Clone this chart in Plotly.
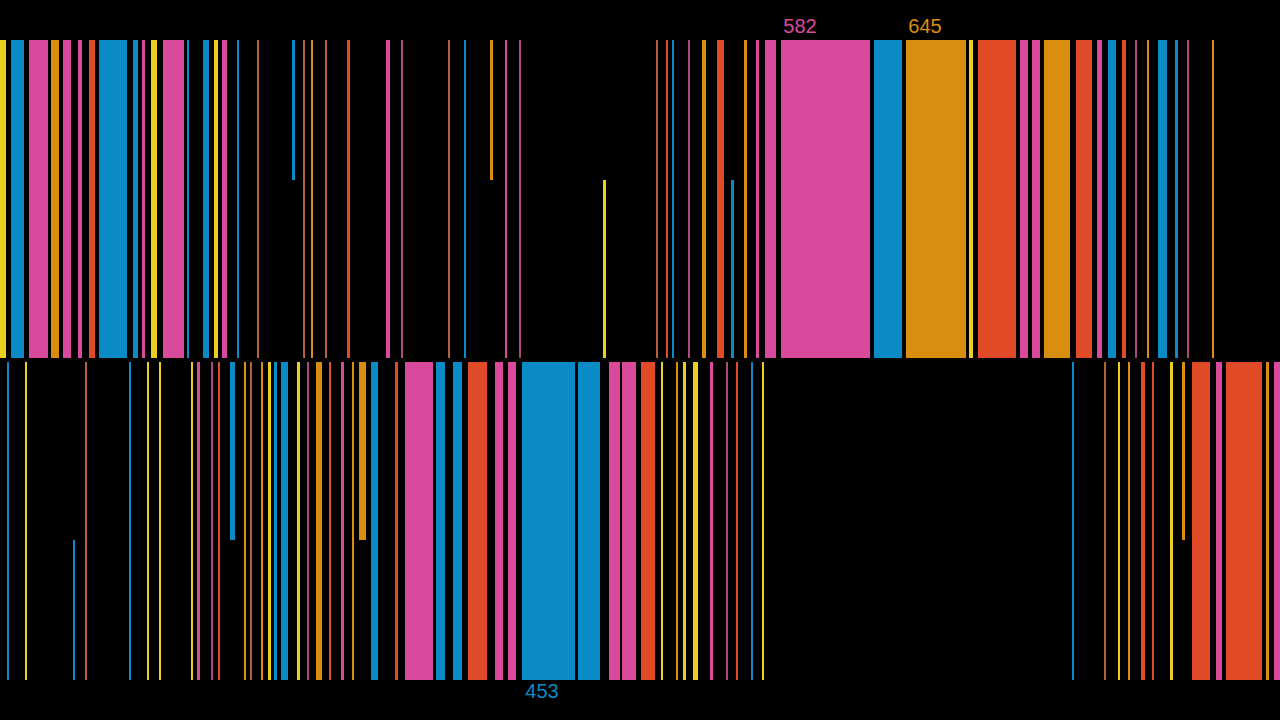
import plotly.graph_objects as go

COL = {"Y": "#e8d01c", "B": "#0a8bc6", "P": "#da4a9c", "O": "#da8e10",
       "R": "#e04a26", "N": "#b0603a", "M": "#a84a7c"}

# top row: left edge, width, colour, span (F full, T upper half, B lower half)
top_left = [0, 11, 29, 51, 63, 78, 89, 99, 133, 142, 151, 163, 187, 203, 214, 222, 237, 257, 292, 303, 311, 325, 347, 386, 401, 448, 464, 490, 505, 519, 603,
            656, 666, 672, 688, 702, 717, 731, 744, 756, 765, 781, 874, 906, 969, 978, 1020, 1032, 1044, 1076, 1097, 1108, 1122, 1135, 1147, 1158, 1175, 1187, 1212]
top_width = [6, 13, 19, 8, 8, 4, 6, 28, 5, 3, 6, 21, 2, 6, 4, 5, 2, 2, 3, 2, 2, 2, 3, 4, 2, 2, 2, 3, 2, 2, 3,
             2, 2, 2, 2, 4, 7, 3, 3, 3, 11, 89, 28, 60, 4, 38, 8, 8, 26, 16, 5, 8, 4, 2, 2, 9, 3, 2, 2]
top_col = list("YBPOPPRBBPYPBBYPBNBNONRPMNBOPMY" + "NRBMORBOPPPBOYRPPORPBRMOBBMO")
top_span = list("FFFFFFFFFFFFFFFFFFTFFFFFFFFTFFB" + "FFFFFFBFFFFFFFFFFFFFFFFFFFFFF")

bot_left = [7, 25, 73, 85, 129, 147, 159, 191, 197, 211, 218, 230, 244, 250, 261, 268, 274, 281, 297, 307, 316, 329, 341, 352, 359, 371, 395, 405, 436, 453, 468, 495, 508, 522, 578, 609, 622, 641, 661, 676, 683, 693, 710, 726, 736, 751, 762,
            1072, 1104, 1118, 1128, 1141, 1152, 1170, 1182, 1192, 1216, 1226, 1266, 1274]
bot_width = [2, 2, 2, 2, 2, 2, 2, 2, 3, 2, 2, 5, 2, 2, 2, 3, 3, 7, 3, 2, 6, 2, 3, 2, 7, 7, 3, 28, 9, 9, 19, 8, 8, 53, 22, 11, 14, 14, 2, 2, 3, 5, 3, 2, 2, 2, 2,
             2, 2, 2, 2, 4, 2, 3, 3, 18, 6, 36, 3, 6]
bot_col = list("BYBNBYYYPMRBONOYBBYMORPOOBRPBBRPPBBPPRYOYYPMRBY" + "BNYORRYORPROP")
bot_span = list("FFBFFFFFFFFTFFFFFFFFFFFFTFFFFFFFFFFFFFFFFFFFFFF" + "FFFFFFFTFFFFF")

labels_text = ["582", "645", "453"]
labels_x = [800, 925, 542]
labels_y = [28, 28, 693]
labels_col = ["P", "O", "B"]

ROWS = [(40, 358, 180), (362, 680, 540)]

fig = go.Figure()
for (lefts, widths, cols, spans), (y0, y1, ym) in zip(
        [(top_left, top_width, top_col, top_span), (bot_left, bot_width, bot_col, bot_span)], ROWS):
    xs, ws, bases, hs, cs = [], [], [], [], []
    for l, w, c, s in zip(lefts, widths, cols, spans):
        a, b = {"F": (y0, y1), "T": (y0, ym), "B": (ym, y1)}[s]
        xs.append(l + w / 2); ws.append(w); bases.append(a); hs.append(b - a); cs.append(COL[c])
    fig.add_trace(go.Bar(x=xs, y=hs, base=bases, width=ws, marker=dict(color=cs, line=dict(width=0)),
                         hoverinfo="skip", showlegend=False))

fig.add_trace(go.Scatter(x=labels_x, y=labels_y, mode="text", text=labels_text,
                         textfont=dict(size=20, family="Liberation Sans", color=[COL[c] for c in labels_col]),
                         showlegend=False, hoverinfo="skip"))

fig.update_layout(width=1280, height=720, margin=dict(l=0, r=0, t=0, b=0),
                  paper_bgcolor="black", plot_bgcolor="black", barmode="overlay",
                  xaxis=dict(range=[0, 1280], visible=False),
                  yaxis=dict(range=[720, 0], visible=False))
fig.write_html("out.html", config={"displayModeBar": False},
               post_script="document.body.style.margin='0';document.body.style.background='#000';document.body.style.overflow='hidden';")
